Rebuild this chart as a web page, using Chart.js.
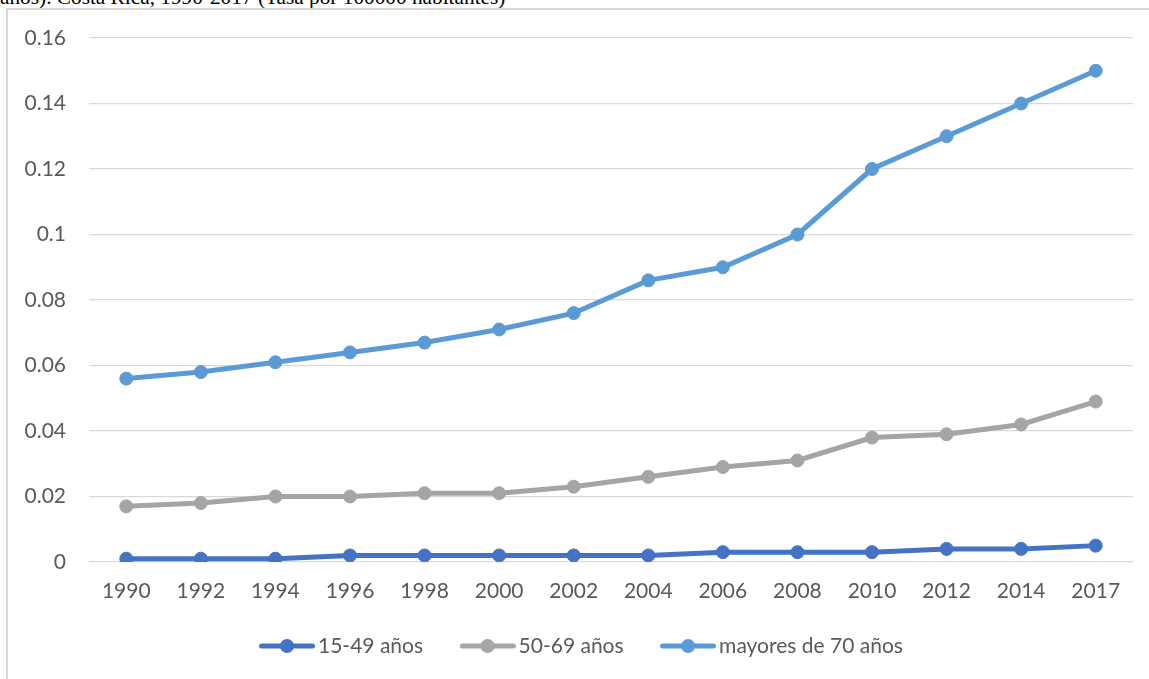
<!DOCTYPE html>
<html>
<head>
<meta charset="utf-8">
<script src="https://cdn.jsdelivr.net/npm/chart.js@4/dist/chart.umd.min.js"></script>
<style>
  html, body { margin: 0; padding: 0; background: #ffffff; overflow: hidden; }
  #wrap { position: relative; width: 1149px; height: 679px; overflow: hidden; background: #ffffff; }
  #title {
    position: absolute; left: 0; top: -13px; white-space: nowrap;
    font-family: "Liberation Serif", "Times New Roman", serif; font-size: 21.3px; line-height: 21px; color: #000;
  }
  #frame {
    position: absolute; left: 6px; top: 8px; width: 1300px; height: 800px;
    border-left: 2px solid #d9d9d9; border-top: 2px solid #d9d9d9; box-sizing: border-box;
  }
  #chart { position: absolute; left: 0; top: 0; }
</style>
</head>
<body>
<div id="wrap">
  <div id="title">años). Costa Rica, 1990-2017 (Tasa por 100000 habitantes)</div>
  <div id="frame"></div>
  <canvas id="chart" width="1149" height="679"></canvas>
</div>
<script>
// Años del eje horizontal
const years = ['1990', '1992', '1994', '1996', '1998', '2000', '2002', '2004',
               '2006', '2008', '2010', '2012', '2014', '2017'];

// Tasas por grupo de edad
const tasa15a49 = [0.001, 0.001, 0.001, 0.002, 0.002, 0.002, 0.002, 0.002,
                   0.003, 0.003, 0.003, 0.004, 0.004, 0.005];
const tasa50a69 = [0.017, 0.018, 0.020, 0.020, 0.021, 0.021, 0.023, 0.026,
                   0.029, 0.031, 0.038, 0.039, 0.042, 0.049];
const tasa70mas = [0.056, 0.058, 0.061, 0.064, 0.067, 0.071, 0.076, 0.086,
                   0.090, 0.100, 0.120, 0.130, 0.140, 0.150];

// Marcas del eje vertical
const yTicks = [0, 0.02, 0.04, 0.06, 0.08, 0.1, 0.12, 0.14, 0.16];

const seriesNames = ['15-49 años', '50-69 años', 'mayores de 70 años'];
const seriesColors = ['#4472C4', '#A5A5A5', '#5B9BD5'];

const FONT = 'Lato, "Open Sans", "DejaVu Sans", sans-serif';
const FONT_SIZE = 21;
const TEXT_COLOR = '#595959';

// Small "line with marker" icon used in the legend
function legendIcon(color) {
  const c = document.createElement('canvas');
  c.width = 56; c.height = 16;
  const g = c.getContext('2d');
  g.strokeStyle = color;
  g.lineWidth = 5;
  g.lineCap = 'round';
  g.beginPath();
  g.moveTo(2.5, 8); g.lineTo(53.5, 8);
  g.stroke();
  g.fillStyle = color;
  g.beginPath();
  g.arc(28, 8, 7, 0, Math.PI * 2);
  g.fill();
  return c;
}

function makeDataset(label, values, color) {
  return {
    label: label,
    data: values,
    borderColor: color,
    backgroundColor: color,
    borderWidth: 5,
    pointRadius: 6.5,
    pointBorderWidth: 1,
    pointBorderColor: color,
    pointBackgroundColor: color,
    pointHoverRadius: 6.5,
    tension: 0,
    fill: false
  };
}

// Places the legend row under the plot
const legendPlacement = {
  id: 'legendPlacement',
  afterLayout(chart) {
    const lg = chart.legend;
    if (!lg || !lg.lineWidths) return;
    const pad = lg.options.labels.padding;
    const firstX = 266.5;
    lg.left = 0;
    lg.right = 2 * firstX - pad + lg.lineWidths[0];
    lg.top = 646 - pad - FONT_SIZE / 2;
    lg.bottom = chart.height;
    lg.height = lg.bottom - lg.top;
  }
};

new Chart(document.getElementById('chart'), {
  type: 'line',
  data: {
    labels: years,
    datasets: [
      makeDataset(seriesNames[0], tasa15a49, seriesColors[0]),
      makeDataset(seriesNames[1], tasa50a69, seriesColors[1]),
      makeDataset(seriesNames[2], tasa70mas, seriesColors[2])
    ]
  },
  options: {
    responsive: false,
    animation: false,
    devicePixelRatio: 1,
    layout: { padding: { top: 38, right: 16, bottom: 0, left: 0 } },
    scales: {
      x: {
        offset: true,
        grid: { display: false, drawTicks: false },
        border: { display: false },
        ticks: { color: TEXT_COLOR, font: { family: FONT, size: FONT_SIZE }, padding: 17, maxRotation: 0, autoSkip: false },
        afterFit(scale) { scale.height = 67; }
      },
      y: {
        min: 0,
        max: 0.16,
        afterBuildTicks(scale) { scale.ticks = yTicks.map(v => ({ value: v })); },
        grid: { color: '#d9d9d9', lineWidth: 1.2, drawTicks: false },
        border: { display: false },
        ticks: {
          color: TEXT_COLOR,
          font: { family: FONT, size: FONT_SIZE },
          padding: 23,
          callback: v => String(Number(v.toFixed(2)))
        },
        afterFit(scale) { scale.width = 89; }
      }
    },
    plugins: {
      title: { display: false },
      tooltip: { enabled: false },
      legend: {
        position: 'bottom',
        maxHeight: 50,
        labels: {
          usePointStyle: true,
          pointStyleWidth: 41,
          padding: 44,
          color: TEXT_COLOR,
          font: { family: FONT, size: FONT_SIZE },
          generateLabels(chart) {
            return chart.data.datasets.map((ds, i) => ({
              text: ds.label,
              pointStyle: legendIcon(ds.borderColor),
              fillStyle: ds.borderColor,
              strokeStyle: ds.borderColor,
              lineWidth: 0,
              hidden: false,
              datasetIndex: i,
              fontColor: TEXT_COLOR
            }));
          }
        }
      }
    }
  },
  plugins: [legendPlacement]
});
</script>
</body>
</html>
